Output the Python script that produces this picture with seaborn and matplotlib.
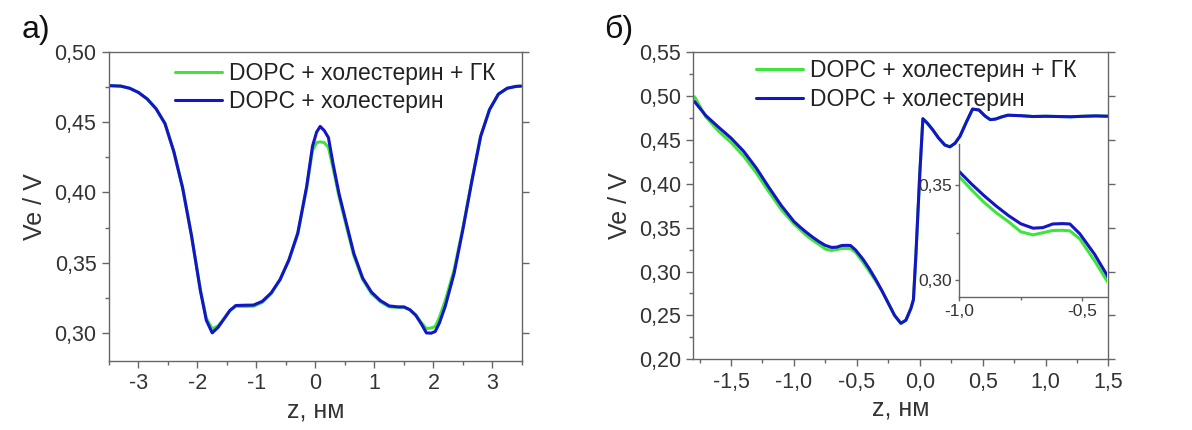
import numpy as np
import pandas as pd
import matplotlib
matplotlib.use("Agg")
import matplotlib.pyplot as plt
from matplotlib.ticker import MultipleLocator, FuncFormatter
import seaborn as sns

# ---------------- data: panel a ----------------
z_a = [-3.48, -3.3, -3.15, -3.0, -2.85, -2.7, -2.55, -2.4, -2.25, -2.1, -1.95, -1.85,
       -1.75, -1.65, -1.55, -1.45, -1.35, -1.2, -1.05, -0.9, -0.75, -0.6, -0.45, -0.3,
       -0.15, -0.05, 0.02, 0.08, 0.15, 0.22, 0.3, 0.4, 0.5, 0.65, 0.8, 0.95, 1.1, 1.25,
       1.4, 1.5, 1.6, 1.7, 1.8, 1.88, 1.96, 2.03, 2.1, 2.2, 2.35, 2.5, 2.65, 2.8, 2.95,
       3.1, 3.25, 3.4, 3.48]
ve_a_chol = [0.4760, 0.4757, 0.4742, 0.4712, 0.4665, 0.4595, 0.4490, 0.4290, 0.4030,
             0.3690, 0.3300, 0.3090, 0.3000, 0.3040, 0.3100, 0.3160, 0.3195, 0.3197,
             0.3198, 0.3225, 0.3285, 0.3380, 0.3520, 0.3710, 0.4040, 0.4330, 0.4430,
             0.4470, 0.4440, 0.4390, 0.4200, 0.3990, 0.3820, 0.3566, 0.3390, 0.3290,
             0.3230, 0.3192, 0.3185, 0.3185, 0.3165, 0.3125, 0.3060, 0.3000, 0.2998,
             0.3010, 0.3070, 0.3190, 0.3424, 0.3740, 0.4080, 0.4400, 0.4590, 0.4700,
             0.4742, 0.4755, 0.4757]
ve_a_chol_gk = [0.4760, 0.4757, 0.4742, 0.4712, 0.4665, 0.4595, 0.4490, 0.4290, 0.4030,
                0.3690, 0.3305, 0.3105, 0.3028, 0.3050, 0.3100, 0.3158, 0.3190, 0.3188,
                0.3190, 0.3218, 0.3280, 0.3378, 0.3518, 0.3705, 0.4030, 0.4300, 0.4355,
                0.4360, 0.4355, 0.4320, 0.4170, 0.3970, 0.3800, 0.3550, 0.3380, 0.3280,
                0.3222, 0.3185, 0.3182, 0.3182, 0.3165, 0.3128, 0.3070, 0.3030, 0.3035,
                0.3045, 0.3110, 0.3230, 0.3450, 0.3750, 0.4085, 0.4400, 0.4590, 0.4700,
                0.4742, 0.4755, 0.4757]

# ---------------- data: panel b ----------------
z_b = [-1.79, -1.70, -1.60, -1.50, -1.40, -1.30, -1.20, -1.10, -1.00, -0.95, -0.90,
       -0.85, -0.80, -0.75, -0.70, -0.66, -0.62, -0.58, -0.55, -0.51, -0.45, -0.40,
       -0.35, -0.30, -0.25, -0.20, -0.15, -0.11, -0.07, -0.05, -0.03, 0.00, 0.025,
       0.06, 0.10, 0.15, 0.20, 0.24, 0.28, 0.32, 0.37, 0.42, 0.47, 0.52, 0.56, 0.60,
       0.65, 0.70, 0.80, 0.90, 1.00, 1.10, 1.20, 1.30, 1.40, 1.50]
ve_b_chol = [0.4935, 0.4775, 0.4645, 0.4520, 0.4370, 0.4180, 0.3960, 0.3750, 0.3570,
             0.3505, 0.3445, 0.3390, 0.3340, 0.3297, 0.3274, 0.3277, 0.3296, 0.3298,
             0.3296, 0.3245, 0.3138, 0.3030, 0.2910, 0.2780, 0.2640, 0.2500, 0.2410,
             0.2445, 0.2580, 0.2680, 0.3200, 0.4100, 0.4740, 0.4690, 0.4620, 0.4520,
             0.4440, 0.4420, 0.4460, 0.4540, 0.4700, 0.4850, 0.4840, 0.4770, 0.4730,
             0.4735, 0.4760, 0.4780, 0.4775, 0.4765, 0.4768, 0.4765, 0.4762, 0.4768,
             0.4772, 0.4768]
ve_b_chol_gk = [0.4990, 0.4760, 0.4600, 0.4470, 0.4315, 0.4125, 0.3910, 0.3705, 0.3543,
                0.3475, 0.3410, 0.3355, 0.3308, 0.3255, 0.3239, 0.3250, 0.3262, 0.3263,
                0.3260, 0.3218, 0.3104, 0.3000, 0.2893, 0.2777, 0.2640, 0.2500, 0.2410,
                0.2445, 0.2580, 0.2680, 0.3200, 0.4100, 0.4740, 0.4690, 0.4620, 0.4520,
                0.4440, 0.4420, 0.4460, 0.4540, 0.4700, 0.4850, 0.4840, 0.4770, 0.4730,
                0.4735, 0.4760, 0.4780, 0.4775, 0.4765, 0.4768, 0.4765, 0.4762, 0.4768,
                0.4772, 0.4768]

labels = ["DOPC + холестерин + ГК", "DOPC + холестерин"]
panel_labels = ["а)", "б)"]
x_label = "z, нм"
y_label = "Ve / V"
GREEN = "#3ee63a"
BLUE = "#1414c8"

sns.set_theme(style="ticks")
plt.rcParams["font.family"] = ["Liberation Sans", "DejaVu Sans"]
plt.rcParams["axes.unicode_minus"] = False

fig = plt.figure(figsize=(11.92, 4.30), dpi=100)
ax_a = fig.add_axes([0.0914, 0.1605, 0.3465, 0.7186])
ax_b = fig.add_axes([0.5816, 0.1644, 0.3483, 0.7147])
ax_in = fig.add_axes([0.8048, 0.310, 0.1237, 0.3551])

def comma_fmt(dec):
    def f(v, pos):
        s = f"{v:.{dec}f}".replace(".", ",")
        if s.startswith("-0,00") or s == "-0":
            s = s[1:]
        return s
    return FuncFormatter(f)

SPINE = "#666666"
TXT = "#333333"

def draw(ax, z, gk, chol, lw=2.2, legend=False):
    df = pd.DataFrame({"z": z, "gk": gk, "chol": chol})
    sns.lineplot(data=df, x="z", y="gk", ax=ax, color=GREEN, lw=lw,
                 label=labels[0] if legend else None, sort=False, estimator=None)
    sns.lineplot(data=df, x="z", y="chol", ax=ax, color=BLUE, lw=lw,
                 label=labels[1] if legend else None, sort=False, estimator=None)
    ax.set_xlabel("")
    ax.set_ylabel("")

def style_main(ax):
    for s in ax.spines.values():
        s.set_color(SPINE)
        s.set_linewidth(1.0)
    ax.tick_params(which="both", direction="out", color=SPINE, width=1.0,
                   labelcolor=TXT, labelsize=15.5, right=True, top=False)
    ax.tick_params(which="major", length=5, pad=4)
    ax.tick_params(which="minor", length=3, right=False)
    ax.set_xlabel(x_label, fontsize=18, color=TXT, labelpad=3)
    ax.set_ylabel(y_label, fontsize=18, color=TXT, labelpad=5)

# panel a
draw(ax_a, z_a, ve_a_chol_gk, ve_a_chol, legend=True)
ax_a.set_xlim(-3.5, 3.5)
ax_a.set_ylim(0.28, 0.50)
ax_a.xaxis.set_major_locator(MultipleLocator(1))
ax_a.xaxis.set_minor_locator(MultipleLocator(0.5))
ax_a.yaxis.set_major_locator(MultipleLocator(0.05))
ax_a.yaxis.set_minor_locator(MultipleLocator(0.025))
ax_a.xaxis.set_major_formatter(FuncFormatter(lambda v, p: f"{v:.0f}"))
ax_a.yaxis.set_major_formatter(comma_fmt(2))
style_main(ax_a)

# panel b
draw(ax_b, z_b, ve_b_chol_gk, ve_b_chol, legend=True)
ax_b.set_xlim(-1.8, 1.5)
ax_b.set_ylim(0.20, 0.55)
ax_b.xaxis.set_major_locator(MultipleLocator(0.5))
ax_b.xaxis.set_minor_locator(MultipleLocator(0.25))
ax_b.yaxis.set_major_locator(MultipleLocator(0.05))
ax_b.yaxis.set_minor_locator(MultipleLocator(0.025))
ax_b.xaxis.set_major_formatter(comma_fmt(1))
ax_b.yaxis.set_major_formatter(comma_fmt(2))
style_main(ax_b)

for ax, bx, by in [(ax_a, 0.16, 0.968), (ax_b, 0.152, 0.976)]:
    leg = ax.legend(loc="upper left", bbox_to_anchor=(bx, by), frameon=False,
                    fontsize=16.5, handlelength=2.05, handletextpad=0.3,
                    labelspacing=0.24, borderpad=0, borderaxespad=0)
    for t in leg.get_texts():
        t.set_color("#222222")

# inset
draw(ax_in, z_b, ve_b_chol_gk, ve_b_chol, lw=2.2)
ax_in.set_xlim(-1.0, -0.4)
ax_in.set_ylim(0.2915, 0.3715)
ax_in.patch.set_alpha(0)
ax_in.spines["top"].set_visible(False)
ax_in.spines["right"].set_visible(False)
for s in ["left", "bottom"]:
    ax_in.spines[s].set_color(SPINE)
    ax_in.spines[s].set_linewidth(1.0)
ax_in.xaxis.set_major_locator(MultipleLocator(0.5))
ax_in.xaxis.set_minor_locator(MultipleLocator(0.25))
ax_in.yaxis.set_major_locator(MultipleLocator(0.05))
ax_in.yaxis.set_minor_locator(MultipleLocator(0.025))
ax_in.xaxis.set_major_formatter(comma_fmt(1))
ax_in.yaxis.set_major_formatter(comma_fmt(2))
ax_in.tick_params(which="both", direction="out", color=SPINE, width=1.0,
                  labelcolor=TXT, labelsize=12.5)
ax_in.tick_params(which="major", length=3, pad=2)
ax_in.tick_params(which="minor", length=2)

fig.text(0.018, 0.965, panel_labels[0], fontsize=23, color="#111111", va="top")
fig.text(0.507, 0.965, panel_labels[1], fontsize=23, color="#111111", va="top")

fig.savefig("out.png", dpi=100, facecolor="white")
